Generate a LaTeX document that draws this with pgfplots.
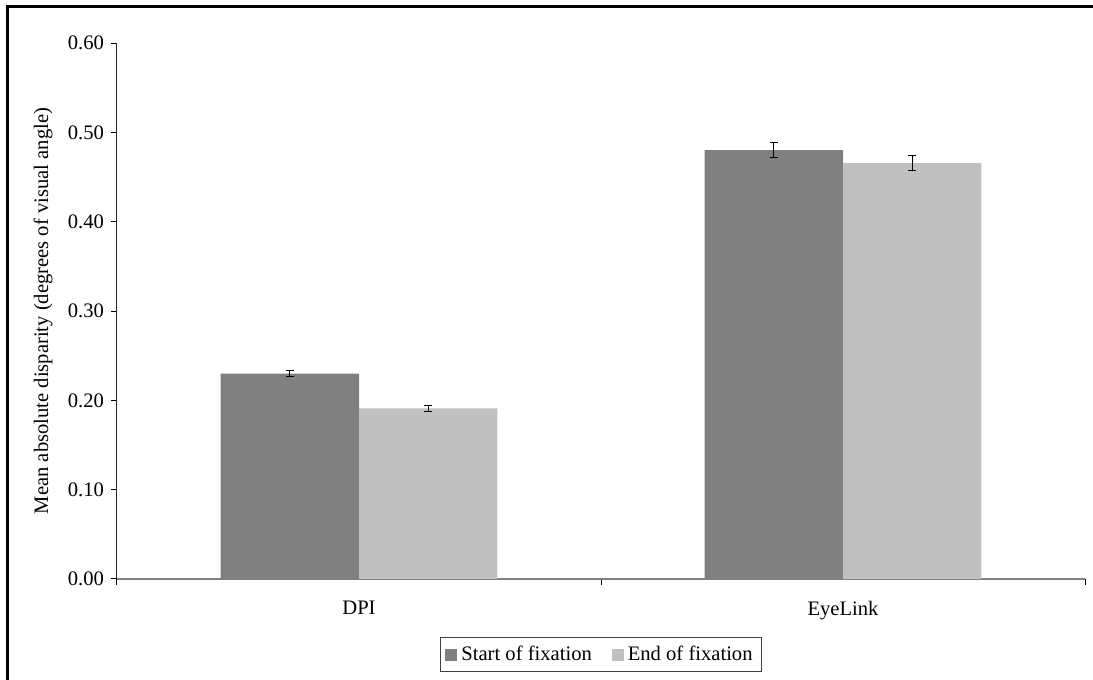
\documentclass[border=0pt]{standalone}
\usepackage{fontspec}
\setmainfont{Liberation Serif}
\usepackage{pgfplots}
\pgfplotsset{compat=1.18}

\definecolor{startgray}{HTML}{808080}
\definecolor{endgray}{HTML}{C0C0C0}

\begin{document}
\begin{tikzpicture}
  % frame of the original figure (only left and top edges are visible)
  \draw[line width=1.3pt] (3.65pt,0) -- (3.65pt,336.6pt) -- (546.5pt,336.6pt);

  \begin{axis}[%
      at={(58.5pt,50.5pt)},
      anchor=south west,
      width=484pt,
      height=268pt,
      scale only axis,
      font=\fontsize{10.3}{12}\selectfont,
      /pgf/number format/assume math mode=true,
      axis x line=bottom,
      axis y line=left,
      axis line style={-},
      x axis line style={draw=startgray, line width=0.7pt},
      y axis line style={draw=black!85, line width=0.5pt},
      xmin=0, xmax=2,
      ymin=0, ymax=0.6,
      enlargelimits=false,
      xtick={0,1,2},
      xticklabels={DPI,EyeLink},
      x tick label as interval,
      ytick={0,0.1,0.2,0.3,0.4,0.5,0.6},
      yticklabel style={/pgf/number format/.cd, fixed, fixed zerofill, precision=2},
      tick align=outside,
      major tick length=3pt,
      tick style={black, line width=0.5pt},
      xticklabel style={yshift=-4.5pt},
      ylabel={Mean absolute disparity (degrees of visual angle)},
      ylabel style={at={(axis description cs:-0.0764,0.5)}, anchor=center},
      legend style={
          at={(0.5,-0.141)}, anchor=center,
          draw=black!75, line width=0.5pt,
          legend columns=2,
          inner xsep=2.5pt, inner ysep=2pt,
          font=\fontsize{10.3}{12}\selectfont,
          /tikz/every even column/.append style={column sep=8pt}},
      legend image code/.code={\fill[#1] (0pt,-3pt) rectangle (6pt,3pt);},
    ]

    % bars sit at category centre -/+ half a bar width; error bars follow them
    \addplot[ybar, bar width=0.286, bar shift=0,
             fill=startgray, draw=none,
             error bars/.cd, y dir=both, y explicit,
             error bar style={black, line width=0.6pt},
             error mark options={black, line width=0.6pt, mark size=2pt, rotate=90}]
      coordinates {
        (0.357,0.230) +- (0,0.0037)
        (1.357,0.480) +- (0,0.0084)
      };
    \addlegendentry{Start of fixation}

    \addplot[ybar, bar width=0.286, bar shift=0,
             fill=endgray, draw=none,
             error bars/.cd, y dir=both, y explicit,
             error bar style={black, line width=0.6pt},
             error mark options={black, line width=0.6pt, mark size=2pt, rotate=90}]
      coordinates {
        (0.643,0.191) +- (0,0.0036)
        (1.643,0.4655) +- (0,0.0082)
      };
    \addlegendentry{End of fixation}

  \end{axis}

  \pgfresetboundingbox
  \path[use as bounding box] (0,0) rectangle (546.5pt,340pt);
\end{tikzpicture}
\end{document}
